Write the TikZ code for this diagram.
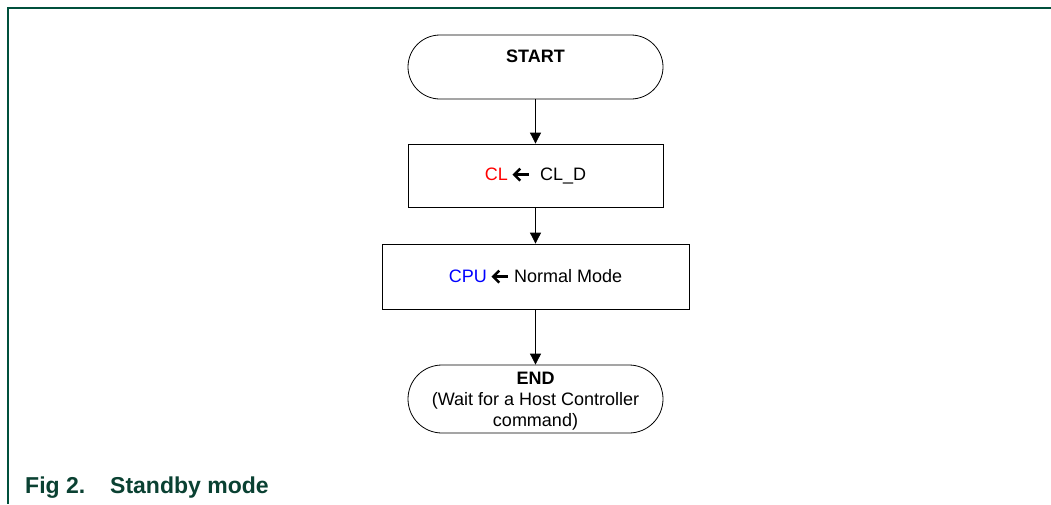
\documentclass[tikz,border=0pt]{standalone}
\usepackage{fontspec}
\setmainfont{Liberation Sans}
\usetikzlibrary{arrows.meta,shapes.misc}
\definecolor{framegreen}{RGB}{0,80,60}
\definecolor{capgreen}{RGB}{10,65,50}
\definecolor{txtred}{RGB}{255,0,0}
\definecolor{txtblue}{RGB}{0,0,255}
\newcommand{\larr}{\tikz[baseline=-5.5pt,x=1pt,y=1pt]{\draw[line width=2.6pt,line cap=butt] (1.5,0) -- (16,0); \draw[line width=2.6pt,line join=miter] (7.5,-6) -- (1.5,0) -- (7.5,6);}}
\tikzset{
  term/.style={draw=black, line width=0.8pt, rounded rectangle, minimum width=255pt, inner sep=0pt},
  procbox/.style={draw=black, line width=0.8pt, rectangle, inner sep=0pt},
  flow/.style={-{Triangle[length=11pt,width=11pt]}, line width=0.8pt},
  lbl/.style={font=\fontsize{18}{21}\selectfont, align=center, inner sep=0pt}
}
\begin{document}
\begin{tikzpicture}[x=1pt,y=-1pt]
\useasboundingbox (0,0) rectangle (1051,504);
\fill[white] (0,0) rectangle (1051,504);
\draw[framegreen, line width=1.2pt] (1051,8) -- (8,8) -- (8,504);
% nodes
\node[term, minimum height=64pt] (start) at (535.5,67) {};
\node[lbl, font=\fontsize{18}{21}\selectfont\bfseries] (starttxt) at (535.5,56) {START};
\node[procbox, minimum width=255pt, minimum height=63pt] (cl) at (535.5,175.5) {};
\node[lbl] (cltxt) at (535.5,175.5) {\textcolor{txtred}{CL}\ \larr\ \ CL\_D};
\node[procbox, minimum width=307pt, minimum height=65pt] (cpu) at (535.5,276.5) {};
\node[lbl] (cputxt) at (535.5,276.5) {\textcolor{txtblue}{CPU}\ \larr\ Normal Mode};
\node[term, minimum height=68pt] (end) at (535.5,399) {};
\node[lbl, font=\fontsize{18}{21}\selectfont] (endtxt) at (535.5,401) {\textbf{END}\\(Wait for a Host Controller\\command)};
% connectors
\draw[flow] (start.south) -- (cl.north);
\draw[flow] (cl.south) -- (cpu.north);
\draw[flow] (cpu.south) -- (end.north);
% caption
\node[anchor=base west, inner sep=0pt, text=capgreen, font=\fontsize{23}{26}\selectfont\bfseries] (cap) at (25,493) {Fig 2.};
\node[anchor=base west, inner sep=0pt, text=capgreen, font=\fontsize{23}{26}\selectfont\bfseries] (captitle) at (110,493) {Standby mode};
\end{tikzpicture}
\end{document}
